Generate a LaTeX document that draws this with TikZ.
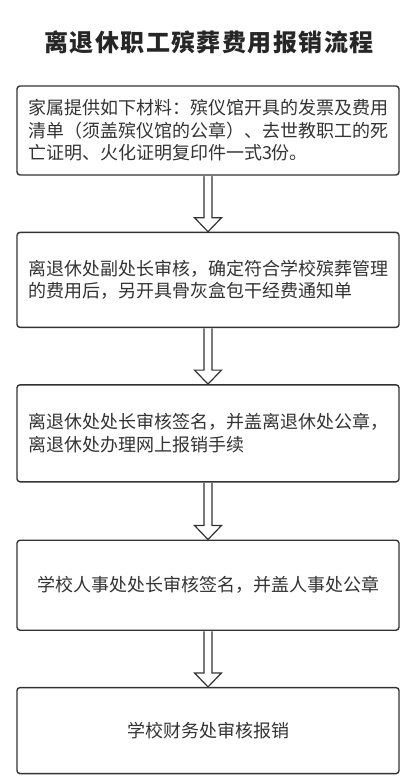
\documentclass[tikz,border=0pt]{standalone}
\usepackage{fontspec}
\newfontfamily\cjk{Noto Sans CJK SC}
\newfontfamily\cjktitle[LetterSpace=6]{Noto Sans CJK SC}
\usetikzlibrary{positioning,calc}
\definecolor{ink}{HTML}{333333}
\newcommand{\hollowarrow}[2]{%
  \draw[line width=1.2pt,draw=ink,fill=white,line join=miter]
    let \p1=(#1.south), \p2=(#2.north) in
    (\x1-4pt,\y1-0.7pt) -- (\x1-4pt,\y2+14pt) -- (\x1-13.5pt,\y2+14pt) -- (\x2,\y2)
    -- (\x1+13.5pt,\y2+14pt) -- (\x1+4pt,\y2+14pt) -- (\x1+4pt,\y1-0.7pt);}

\begin{document}
\begin{tikzpicture}[x=1pt,y=-1pt,line cap=round,line join=round,
  every node/.style={inner sep=0pt,text=ink},
  box/.style={draw=ink,line width=1.4pt,rounded corners=3pt,minimum width=382pt,align=left,
    font=\cjk\fontsize{18pt}{22.5pt}\selectfont}]
  \useasboundingbox (0,0) rectangle (420,776);
  \node[font=\cjktitle\bfseries\fontsize{24pt}{28pt}\selectfont,text=black!85] (title) at (209,42) {离退休职工殡葬费用报销流程};
  \node[box,minimum height=89pt] (b1) at (208,130.5)
    {家属提供如下材料：殡仪馆开具的发票及费用\\清单（须盖殡仪馆的公章）、去世教职工的死\\亡证明、火化证明复印件一式3份。};
  \node[box,minimum height=95pt,below=56pt of b1] (b2)
    {离退休处副处长审核，确定符合学校殡葬管理\\的费用后，另开具骨灰盒包干经费通知单};
  \node[box,minimum height=97pt,below=56pt of b2] (b3)
    {离退休处处长审核签名，并盖离退休处公章，\\离退休处办理网上报销手续};
  \node[box,minimum height=90pt,below=57pt of b3] (b4)
    {学校人事处处长审核签名，并盖人事处公章};
  \node[box,minimum height=86pt,below=56pt of b4] (b5)
    {学校财务处审核报销};
  \hollowarrow{b1}{b2}
  \hollowarrow{b2}{b3}
  \hollowarrow{b3}{b4}
  \hollowarrow{b4}{b5}
\end{tikzpicture}
\end{document}
